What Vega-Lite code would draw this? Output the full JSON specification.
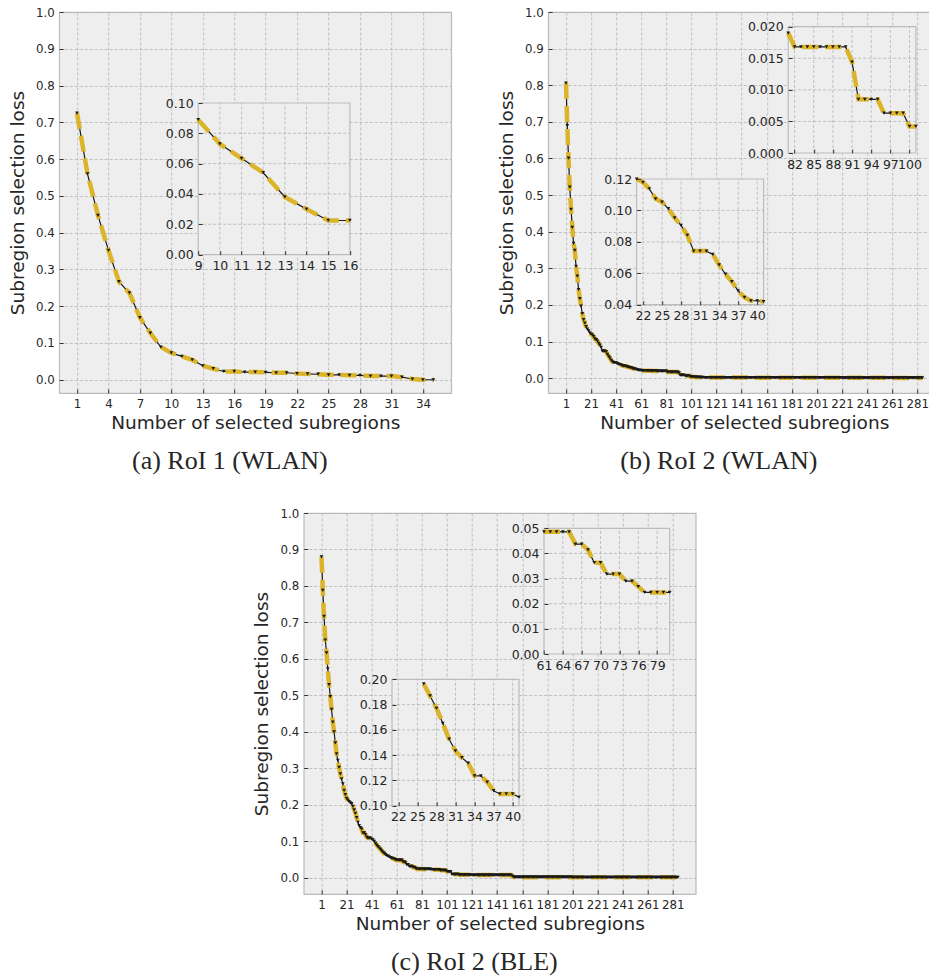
{
"$schema": "https://vega.github.io/schema/vega-lite/v6.json",
"padding": {"left": 7, "top": 6, "right": 0, "bottom": 0},
"background": "white",
"config": {
 "view": {"fill": "#eeeeee", "stroke": "#bcbcbc", "strokeWidth": 1.2},
 "axis": {"labelFont": "DejaVu Sans", "labelFontSize": 11.8, "labelColor": "#262626", "titleFont": "DejaVu Sans", "titleFontSize": 18.5, "titleFontWeight": "normal", "titleColor": "#262626", "domain": false, "grid": true, "gridColor": "#b2b2b2", "gridDash": [3, 2], "gridWidth": 0.8, "tickColor": "#333333", "tickSize": -4, "tickWidth": 1, "labelPadding": 9, "labelFlush": false, "labelOverlap": false},
 "rule": {"color": "#b2b2b2", "strokeDash": [3, 2], "strokeWidth": 0.8},
 "title": {"font": "Liberation Serif", "fontSize": 26, "fontWeight": "normal", "color": "#262626"}
},
"datasets": {
 "a": [{"n":1,"loss":0.725},{"n":2,"loss":0.560},{"n":3,"loss":0.447},{"n":4,"loss":0.352},{"n":5,"loss":0.267},{"n":6,"loss":0.236},{"n":7,"loss":0.169},{"n":8,"loss":0.127},{"n":9,"loss":0.089},{"n":10,"loss":0.073},{"n":11,"loss":0.0635},{"n":12,"loss":0.054},{"n":13,"loss":0.038},{"n":14,"loss":0.030},{"n":15,"loss":0.0225},{"n":16,"loss":0.0225},{"n":17,"loss":0.021},{"n":18,"loss":0.021},{"n":19,"loss":0.020},{"n":20,"loss":0.019},{"n":21,"loss":0.019},{"n":22,"loss":0.017},{"n":23,"loss":0.016},{"n":24,"loss":0.015},{"n":25,"loss":0.0135},{"n":26,"loss":0.0135},{"n":27,"loss":0.012},{"n":28,"loss":0.012},{"n":29,"loss":0.010},{"n":30,"loss":0.010},{"n":31,"loss":0.010},{"n":32,"loss":0.007},{"n":33,"loss":0.002},{"n":34,"loss":0.0},{"n":35,"loss":0.0}],
 "b": [{"n":1,"loss":0.806},{"n":2,"loss":0.690},{"n":3,"loss":0.601},{"n":4,"loss":0.522},{"n":5,"loss":0.461},{"n":6,"loss":0.412},{"n":7,"loss":0.368},{"n":8,"loss":0.349},{"n":9,"loss":0.305},{"n":10,"loss":0.279},{"n":11,"loss":0.242},{"n":12,"loss":0.217},{"n":13,"loss":0.197},{"n":14,"loss":0.176},{"n":15,"loss":0.160},{"n":16,"loss":0.150},{"n":17,"loss":0.141},{"n":18,"loss":0.134},{"n":19,"loss":0.129},{"n":20,"loss":0.124},{"n":21,"loss":0.120},{"n":22,"loss":0.1179},{"n":23,"loss":0.1137},{"n":24,"loss":0.1074},{"n":25,"loss":0.1053},{"n":26,"loss":0.1011},{"n":27,"loss":0.0952},{"n":28,"loss":0.0905},{"n":29,"loss":0.0842},{"n":30,"loss":0.0741},{"n":31,"loss":0.0741},{"n":32,"loss":0.0741},{"n":33,"loss":0.0720},{"n":34,"loss":0.0653},{"n":35,"loss":0.0594},{"n":36,"loss":0.0547},{"n":37,"loss":0.0488},{"n":38,"loss":0.0446},{"n":39,"loss":0.0425},{"n":40,"loss":0.0425},{"n":41,"loss":0.0420},{"n":42,"loss":0.0400},{"n":43,"loss":0.0385},{"n":44,"loss":0.0370},{"n":45,"loss":0.0355},{"n":46,"loss":0.0345},{"n":47,"loss":0.0335},{"n":48,"loss":0.0330},{"n":49,"loss":0.0320},{"n":50,"loss":0.0310},{"n":51,"loss":0.0300},{"n":52,"loss":0.0290},{"n":53,"loss":0.0280},{"n":54,"loss":0.0270},{"n":55,"loss":0.0260},{"n":56,"loss":0.0250},{"n":57,"loss":0.0240},{"n":58,"loss":0.0230},{"n":59,"loss":0.0222},{"n":60,"loss":0.0215},{"n":61,"loss":0.0210},{"n":62,"loss":0.0208},{"n":63,"loss":0.0206},{"n":64,"loss":0.0205},{"n":65,"loss":0.0204},{"n":66,"loss":0.0203},{"n":67,"loss":0.0202},{"n":68,"loss":0.0201},{"n":69,"loss":0.0200},{"n":70,"loss":0.0199},{"n":71,"loss":0.0198},{"n":72,"loss":0.0197},{"n":73,"loss":0.0196},{"n":74,"loss":0.0195},{"n":75,"loss":0.0194},{"n":76,"loss":0.0194},{"n":77,"loss":0.0193},{"n":78,"loss":0.0192},{"n":79,"loss":0.0191},{"n":80,"loss":0.0190},{"n":81,"loss":0.0190},{"n":82,"loss":0.0168},{"n":83,"loss":0.0168},{"n":84,"loss":0.0168},{"n":85,"loss":0.0168},{"n":86,"loss":0.0168},{"n":87,"loss":0.0168},{"n":88,"loss":0.0168},{"n":89,"loss":0.0168},{"n":90,"loss":0.0168},{"n":91,"loss":0.0144},{"n":92,"loss":0.0085},{"n":93,"loss":0.0085},{"n":94,"loss":0.0085},{"n":95,"loss":0.0085},{"n":96,"loss":0.0063},{"n":97,"loss":0.0063},{"n":98,"loss":0.0063},{"n":99,"loss":0.0063},{"n":100,"loss":0.0042},{"n":101,"loss":0.0042},{"n":102,"loss":0.0035},{"n":103,"loss":0.0032},{"n":104,"loss":0.0030},{"n":105,"loss":0.0028},{"n":106,"loss":0.0026},{"n":107,"loss":0.0024},{"n":108,"loss":0.0022},{"n":109,"loss":0.0021},{"n":110,"loss":0.0020},{"n":111,"loss":0.0018},{"n":112,"loss":0.0018},{"n":113,"loss":0.0018},{"n":114,"loss":0.0018},{"n":115,"loss":0.0018},{"n":116,"loss":0.0018},{"n":117,"loss":0.0018},{"n":118,"loss":0.0018},{"n":119,"loss":0.0018},{"n":120,"loss":0.0018},{"n":121,"loss":0.0018},{"n":122,"loss":0.0018},{"n":123,"loss":0.0018},{"n":124,"loss":0.0018},{"n":125,"loss":0.0018},{"n":126,"loss":0.0016},{"n":127,"loss":0.0016},{"n":128,"loss":0.0016},{"n":129,"loss":0.0016},{"n":130,"loss":0.0016},{"n":131,"loss":0.0016},{"n":132,"loss":0.0016},{"n":133,"loss":0.0016},{"n":134,"loss":0.0016},{"n":135,"loss":0.0016},{"n":136,"loss":0.0016},{"n":137,"loss":0.0016},{"n":138,"loss":0.0016},{"n":139,"loss":0.0016},{"n":140,"loss":0.0016},{"n":141,"loss":0.0016},{"n":142,"loss":0.0016},{"n":143,"loss":0.0016},{"n":144,"loss":0.0016},{"n":145,"loss":0.0016},{"n":146,"loss":0.0016},{"n":147,"loss":0.0016},{"n":148,"loss":0.0016},{"n":149,"loss":0.0016},{"n":150,"loss":0.0016},{"n":151,"loss":0.0014},{"n":152,"loss":0.0014},{"n":153,"loss":0.0014},{"n":154,"loss":0.0014},{"n":155,"loss":0.0014},{"n":156,"loss":0.0014},{"n":157,"loss":0.0014},{"n":158,"loss":0.0014},{"n":159,"loss":0.0014},{"n":160,"loss":0.0014},{"n":161,"loss":0.0014},{"n":162,"loss":0.0014},{"n":163,"loss":0.0014},{"n":164,"loss":0.0014},{"n":165,"loss":0.0014},{"n":166,"loss":0.0014},{"n":167,"loss":0.0014},{"n":168,"loss":0.0014},{"n":169,"loss":0.0014},{"n":170,"loss":0.0014},{"n":171,"loss":0.0014},{"n":172,"loss":0.0014},{"n":173,"loss":0.0014},{"n":174,"loss":0.0014},{"n":175,"loss":0.0014},{"n":176,"loss":0.0014},{"n":177,"loss":0.0014},{"n":178,"loss":0.0014},{"n":179,"loss":0.0014},{"n":180,"loss":0.0014},{"n":181,"loss":0.0012},{"n":182,"loss":0.0012},{"n":183,"loss":0.0012},{"n":184,"loss":0.0012},{"n":185,"loss":0.0012},{"n":186,"loss":0.0012},{"n":187,"loss":0.0012},{"n":188,"loss":0.0012},{"n":189,"loss":0.0012},{"n":190,"loss":0.0012},{"n":191,"loss":0.0012},{"n":192,"loss":0.0012},{"n":193,"loss":0.0012},{"n":194,"loss":0.0012},{"n":195,"loss":0.0012},{"n":196,"loss":0.0012},{"n":197,"loss":0.0012},{"n":198,"loss":0.0012},{"n":199,"loss":0.0012},{"n":200,"loss":0.0012},{"n":201,"loss":0.0012},{"n":202,"loss":0.0012},{"n":203,"loss":0.0012},{"n":204,"loss":0.0012},{"n":205,"loss":0.0012},{"n":206,"loss":0.0012},{"n":207,"loss":0.0012},{"n":208,"loss":0.0012},{"n":209,"loss":0.0012},{"n":210,"loss":0.0012},{"n":211,"loss":0.0012},{"n":212,"loss":0.0012},{"n":213,"loss":0.0012},{"n":214,"loss":0.0012},{"n":215,"loss":0.0012},{"n":216,"loss":0.0012},{"n":217,"loss":0.0012},{"n":218,"loss":0.0012},{"n":219,"loss":0.0012},{"n":220,"loss":0.0012},{"n":221,"loss":0.0010},{"n":222,"loss":0.0010},{"n":223,"loss":0.0010},{"n":224,"loss":0.0010},{"n":225,"loss":0.0010},{"n":226,"loss":0.0010},{"n":227,"loss":0.0010},{"n":228,"loss":0.0010},{"n":229,"loss":0.0010},{"n":230,"loss":0.0010},{"n":231,"loss":0.0010},{"n":232,"loss":0.0010},{"n":233,"loss":0.0010},{"n":234,"loss":0.0010},{"n":235,"loss":0.0010},{"n":236,"loss":0.0010},{"n":237,"loss":0.0010},{"n":238,"loss":0.0010},{"n":239,"loss":0.0010},{"n":240,"loss":0.0010},{"n":241,"loss":0.0010},{"n":242,"loss":0.0010},{"n":243,"loss":0.0010},{"n":244,"loss":0.0010},{"n":245,"loss":0.0010},{"n":246,"loss":0.0010},{"n":247,"loss":0.0010},{"n":248,"loss":0.0010},{"n":249,"loss":0.0010},{"n":250,"loss":0.0010},{"n":251,"loss":0.0010},{"n":252,"loss":0.0010},{"n":253,"loss":0.0010},{"n":254,"loss":0.0010},{"n":255,"loss":0.0010},{"n":256,"loss":0.0010},{"n":257,"loss":0.0010},{"n":258,"loss":0.0010},{"n":259,"loss":0.0010},{"n":260,"loss":0.0010},{"n":261,"loss":0.0008},{"n":262,"loss":0.0008},{"n":263,"loss":0.0008},{"n":264,"loss":0.0008},{"n":265,"loss":0.0008},{"n":266,"loss":0.0008},{"n":267,"loss":0.0008},{"n":268,"loss":0.0008},{"n":269,"loss":0.0008},{"n":270,"loss":0.0008},{"n":271,"loss":0.0008},{"n":272,"loss":0.0008},{"n":273,"loss":0.0008},{"n":274,"loss":0.0008},{"n":275,"loss":0.0008},{"n":276,"loss":0.0008},{"n":277,"loss":0.0008},{"n":278,"loss":0.0008},{"n":279,"loss":0.0008},{"n":280,"loss":0.0008},{"n":281,"loss":0.0008},{"n":282,"loss":0.0008},{"n":283,"loss":0.0008},{"n":284,"loss":0.0008},{"n":285,"loss":0.0008}],
 "c": [{"n":1,"loss":0.880},{"n":2,"loss":0.788},{"n":3,"loss":0.717},{"n":4,"loss":0.652},{"n":5,"loss":0.617},{"n":6,"loss":0.573},{"n":7,"loss":0.530},{"n":8,"loss":0.497},{"n":9,"loss":0.462},{"n":10,"loss":0.427},{"n":11,"loss":0.400},{"n":12,"loss":0.370},{"n":13,"loss":0.340},{"n":14,"loss":0.322},{"n":15,"loss":0.303},{"n":16,"loss":0.285},{"n":17,"loss":0.271},{"n":18,"loss":0.258},{"n":19,"loss":0.240},{"n":20,"loss":0.228},{"n":21,"loss":0.218},{"n":22,"loss":0.213},{"n":23,"loss":0.209},{"n":24,"loss":0.206},{"n":25,"loss":0.2035},{"n":26,"loss":0.1963},{"n":27,"loss":0.1868},{"n":28,"loss":0.1771},{"n":29,"loss":0.1652},{"n":30,"loss":0.1526},{"n":31,"loss":0.1433},{"n":32,"loss":0.1380},{"n":33,"loss":0.1336},{"n":34,"loss":0.1236},{"n":35,"loss":0.1236},{"n":36,"loss":0.1186},{"n":37,"loss":0.1119},{"n":38,"loss":0.1093},{"n":39,"loss":0.1093},{"n":40,"loss":0.1093},{"n":41,"loss":0.1067},{"n":42,"loss":0.1040},{"n":43,"loss":0.1000},{"n":44,"loss":0.0950},{"n":45,"loss":0.0900},{"n":46,"loss":0.0860},{"n":47,"loss":0.0820},{"n":48,"loss":0.0780},{"n":49,"loss":0.0740},{"n":50,"loss":0.0700},{"n":51,"loss":0.0670},{"n":52,"loss":0.0640},{"n":53,"loss":0.0615},{"n":54,"loss":0.0595},{"n":55,"loss":0.0575},{"n":56,"loss":0.0560},{"n":57,"loss":0.0545},{"n":58,"loss":0.0530},{"n":59,"loss":0.0515},{"n":60,"loss":0.0500},{"n":61,"loss":0.0486},{"n":62,"loss":0.0486},{"n":63,"loss":0.0486},{"n":64,"loss":0.0486},{"n":65,"loss":0.0486},{"n":66,"loss":0.0437},{"n":67,"loss":0.0437},{"n":68,"loss":0.0414},{"n":69,"loss":0.0363},{"n":70,"loss":0.0363},{"n":71,"loss":0.0318},{"n":72,"loss":0.0318},{"n":73,"loss":0.0318},{"n":74,"loss":0.0290},{"n":75,"loss":0.0290},{"n":76,"loss":0.0268},{"n":77,"loss":0.0245},{"n":78,"loss":0.0245},{"n":79,"loss":0.0245},{"n":80,"loss":0.0245},{"n":81,"loss":0.0245},{"n":82,"loss":0.0240},{"n":83,"loss":0.0240},{"n":84,"loss":0.0240},{"n":85,"loss":0.0240},{"n":86,"loss":0.0240},{"n":87,"loss":0.0240},{"n":88,"loss":0.0240},{"n":89,"loss":0.0225},{"n":90,"loss":0.0225},{"n":91,"loss":0.0225},{"n":92,"loss":0.0225},{"n":93,"loss":0.0225},{"n":94,"loss":0.0225},{"n":95,"loss":0.0225},{"n":96,"loss":0.0210},{"n":97,"loss":0.0210},{"n":98,"loss":0.0210},{"n":99,"loss":0.0210},{"n":100,"loss":0.0210},{"n":101,"loss":0.0175},{"n":102,"loss":0.0175},{"n":103,"loss":0.0175},{"n":104,"loss":0.0175},{"n":105,"loss":0.0100},{"n":106,"loss":0.0100},{"n":107,"loss":0.0100},{"n":108,"loss":0.0100},{"n":109,"loss":0.0100},{"n":110,"loss":0.0100},{"n":111,"loss":0.0085},{"n":112,"loss":0.0085},{"n":113,"loss":0.0085},{"n":114,"loss":0.0085},{"n":115,"loss":0.0085},{"n":116,"loss":0.0085},{"n":117,"loss":0.0085},{"n":118,"loss":0.0085},{"n":119,"loss":0.0085},{"n":120,"loss":0.0085},{"n":121,"loss":0.0080},{"n":122,"loss":0.0080},{"n":123,"loss":0.0080},{"n":124,"loss":0.0080},{"n":125,"loss":0.0080},{"n":126,"loss":0.0080},{"n":127,"loss":0.0080},{"n":128,"loss":0.0080},{"n":129,"loss":0.0080},{"n":130,"loss":0.0080},{"n":131,"loss":0.0080},{"n":132,"loss":0.0080},{"n":133,"loss":0.0080},{"n":134,"loss":0.0080},{"n":135,"loss":0.0080},{"n":136,"loss":0.0080},{"n":137,"loss":0.0080},{"n":138,"loss":0.0080},{"n":139,"loss":0.0080},{"n":140,"loss":0.0080},{"n":141,"loss":0.0080},{"n":142,"loss":0.0080},{"n":143,"loss":0.0080},{"n":144,"loss":0.0080},{"n":145,"loss":0.0080},{"n":146,"loss":0.0080},{"n":147,"loss":0.0080},{"n":148,"loss":0.0080},{"n":149,"loss":0.0080},{"n":150,"loss":0.0080},{"n":151,"loss":0.0080},{"n":152,"loss":0.0080},{"n":153,"loss":0.0050},{"n":154,"loss":0.0030},{"n":155,"loss":0.0022},{"n":156,"loss":0.0022},{"n":157,"loss":0.0022},{"n":158,"loss":0.0022},{"n":159,"loss":0.0022},{"n":160,"loss":0.0022},{"n":161,"loss":0.0022},{"n":162,"loss":0.0022},{"n":163,"loss":0.0022},{"n":164,"loss":0.0022},{"n":165,"loss":0.0022},{"n":166,"loss":0.0022},{"n":167,"loss":0.0022},{"n":168,"loss":0.0022},{"n":169,"loss":0.0022},{"n":170,"loss":0.0022},{"n":171,"loss":0.0022},{"n":172,"loss":0.0022},{"n":173,"loss":0.0022},{"n":174,"loss":0.0022},{"n":175,"loss":0.0022},{"n":176,"loss":0.0022},{"n":177,"loss":0.0022},{"n":178,"loss":0.0022},{"n":179,"loss":0.0022},{"n":180,"loss":0.0022},{"n":181,"loss":0.0022},{"n":182,"loss":0.0022},{"n":183,"loss":0.0022},{"n":184,"loss":0.0022},{"n":185,"loss":0.0022},{"n":186,"loss":0.0022},{"n":187,"loss":0.0022},{"n":188,"loss":0.0022},{"n":189,"loss":0.0022},{"n":190,"loss":0.0022},{"n":191,"loss":0.0022},{"n":192,"loss":0.0022},{"n":193,"loss":0.0022},{"n":194,"loss":0.0022},{"n":195,"loss":0.0022},{"n":196,"loss":0.0022},{"n":197,"loss":0.0022},{"n":198,"loss":0.0022},{"n":199,"loss":0.0022},{"n":200,"loss":0.0022},{"n":201,"loss":0.0018},{"n":202,"loss":0.0018},{"n":203,"loss":0.0018},{"n":204,"loss":0.0018},{"n":205,"loss":0.0018},{"n":206,"loss":0.0018},{"n":207,"loss":0.0018},{"n":208,"loss":0.0018},{"n":209,"loss":0.0018},{"n":210,"loss":0.0018},{"n":211,"loss":0.0018},{"n":212,"loss":0.0018},{"n":213,"loss":0.0018},{"n":214,"loss":0.0018},{"n":215,"loss":0.0018},{"n":216,"loss":0.0018},{"n":217,"loss":0.0018},{"n":218,"loss":0.0018},{"n":219,"loss":0.0018},{"n":220,"loss":0.0018},{"n":221,"loss":0.0018},{"n":222,"loss":0.0018},{"n":223,"loss":0.0018},{"n":224,"loss":0.0018},{"n":225,"loss":0.0018},{"n":226,"loss":0.0018},{"n":227,"loss":0.0018},{"n":228,"loss":0.0018},{"n":229,"loss":0.0018},{"n":230,"loss":0.0018},{"n":231,"loss":0.0018},{"n":232,"loss":0.0018},{"n":233,"loss":0.0018},{"n":234,"loss":0.0018},{"n":235,"loss":0.0018},{"n":236,"loss":0.0018},{"n":237,"loss":0.0018},{"n":238,"loss":0.0018},{"n":239,"loss":0.0018},{"n":240,"loss":0.0018},{"n":241,"loss":0.0018},{"n":242,"loss":0.0018},{"n":243,"loss":0.0018},{"n":244,"loss":0.0018},{"n":245,"loss":0.0018},{"n":246,"loss":0.0018},{"n":247,"loss":0.0018},{"n":248,"loss":0.0018},{"n":249,"loss":0.0018},{"n":250,"loss":0.0018},{"n":251,"loss":0.0018},{"n":252,"loss":0.0018},{"n":253,"loss":0.0018},{"n":254,"loss":0.0018},{"n":255,"loss":0.0018},{"n":256,"loss":0.0018},{"n":257,"loss":0.0018},{"n":258,"loss":0.0018},{"n":259,"loss":0.0018},{"n":260,"loss":0.0018},{"n":261,"loss":0.0018},{"n":262,"loss":0.0018},{"n":263,"loss":0.0018},{"n":264,"loss":0.0018},{"n":265,"loss":0.0018},{"n":266,"loss":0.0018},{"n":267,"loss":0.0018},{"n":268,"loss":0.0018},{"n":269,"loss":0.0018},{"n":270,"loss":0.0018},{"n":271,"loss":0.0018},{"n":272,"loss":0.0018},{"n":273,"loss":0.0018},{"n":274,"loss":0.0018},{"n":275,"loss":0.0018},{"n":276,"loss":0.0018},{"n":277,"loss":0.0018},{"n":278,"loss":0.0018},{"n":279,"loss":0.0018},{"n":280,"loss":0.0018},{"n":281,"loss":0.0018},{"n":282,"loss":0.0018},{"n":283,"loss":0.0018},{"n":284,"loss":0.0018},{"n":285,"loss":0.0018}]
},
"vconcat": [
 {"hconcat": [
  {
   "width": 392, "height": 381,
   "title": {"text": "(a) RoI 1 (WLAN)", "orient": "bottom", "anchor": "middle", "frame": "bounds", "offset": 16},
   "layer": [
    {"data": {"name": "a"},
     "encoding": {
      "x": {"field": "n", "type": "quantitative", "scale": {"domain": [-0.7, 36.7], "nice": false, "zero": false}, "axis": {"orient": "bottom", "values": [1,4,7,10,13,16,19,22,25,28,31,34], "title": "Number of selected subregions", "titlePadding": 4}},
      "y": {"field": "loss", "type": "quantitative", "scale": {"domain": [-0.036, 1.0], "nice": false, "zero": false}, "axis": {"orient": "left", "values": [0,0.1,0.2,0.3,0.4,0.5,0.6,0.7,0.8,0.9,1.0], "format": ".1f", "title": "Subregion selection loss", "titlePadding": 8}}},
     "layer": [
      {"mark": {"type": "line", "color": "#1a1a1a", "strokeWidth": 1.2}},
      {"mark": {"type": "line", "color": "#dcb42a", "strokeWidth": 4.5, "strokeDash": [16, 7], "strokeCap": "butt"}},
      {"mark": {"type": "point", "shape": "triangle-down", "filled": true, "color": "#1a1a1a", "size": 14, "opacity": 1}}
     ]},
    {"encoding": {
      "x": {"field": "n", "type": "quantitative", "scale": {"domain": [9, 16], "range": [139, 290.7], "nice": false, "zero": false}, "axis": {"orient": "bottom", "offset": -138.4, "values": [9,10,11,12,13,14,15,16], "title": null, "grid": false, "zindex": 1, "labelFontSize": 12.5}},
      "y": {"field": "loss", "type": "quantitative", "scale": {"domain": [0, 0.1], "range": [242.6, 91], "nice": false, "zero": false}, "axis": {"orient": "left", "offset": -139, "values": [0,0.02,0.04,0.06,0.08,0.1], "format": ".2f", "title": null, "grid": false, "zindex": 1, "labelFontSize": 12.5}}},
     "layer": [
      {"data": {"values": [{"x0": 9, "x1": 16, "y0": 0, "y1": 0.1}]}, "mark": {"type": "rect", "fill": "#eeeeee", "stroke": "#bcbcbc", "strokeWidth": 1.2}, "encoding": {"x": {"field": "x0", "type": "quantitative"}, "x2": {"field": "x1"}, "y": {"field": "y0", "type": "quantitative"}, "y2": {"field": "y1"}}},
      {"data": {"values": [{"t":10,"lo":0,"hi":0.1},{"t":11,"lo":0,"hi":0.1},{"t":12,"lo":0,"hi":0.1},{"t":13,"lo":0,"hi":0.1},{"t":14,"lo":0,"hi":0.1},{"t":15,"lo":0,"hi":0.1}]}, "mark": {"type": "rule"}, "encoding": {"x": {"field": "t", "type": "quantitative"}, "y": {"field": "lo", "type": "quantitative"}, "y2": {"field": "hi"}}},
      {"data": {"values": [{"t":0.02,"lo":9,"hi":16},{"t":0.04,"lo":9,"hi":16},{"t":0.06,"lo":9,"hi":16},{"t":0.08,"lo":9,"hi":16}]}, "mark": {"type": "rule"}, "encoding": {"y": {"field": "t", "type": "quantitative"}, "x": {"field": "lo", "type": "quantitative"}, "x2": {"field": "hi"}}},
      {"data": {"name": "a"}, "transform": [{"filter": "datum.n >= 9 && datum.n <= 16"}], "mark": {"type": "line", "color": "#1a1a1a", "strokeWidth": 1.2}},
      {"data": {"name": "a"}, "transform": [{"filter": "datum.n >= 9 && datum.n <= 16"}], "mark": {"type": "line", "color": "#dcb42a", "strokeWidth": 4.5, "strokeDash": [16, 7], "strokeCap": "butt"}},
      {"data": {"name": "a"}, "transform": [{"filter": "datum.n >= 9 && datum.n <= 16"}], "mark": {"type": "point", "shape": "triangle-down", "filled": true, "color": "#1a1a1a", "size": 14, "opacity": 1}}
     ]}
   ],
   "resolve": {"scale": {"x": "independent", "y": "independent"}}
  },
  {
   "width": 392, "height": 381,
   "title": {"text": "(b) RoI 2 (WLAN)", "orient": "bottom", "anchor": "middle", "frame": "bounds", "offset": 16},
   "layer": [
    {"data": {"name": "b"},
     "encoding": {
      "x": {"field": "n", "type": "quantitative", "scale": {"domain": [-13.2, 299.2], "nice": false, "zero": false}, "axis": {"orient": "bottom", "values": [1,21,41,61,81,101,121,141,161,181,201,221,241,261,281], "title": "Number of selected subregions", "titlePadding": 4}},
      "y": {"field": "loss", "type": "quantitative", "scale": {"domain": [-0.0405, 1.0], "nice": false, "zero": false}, "axis": {"orient": "left", "values": [0,0.1,0.2,0.3,0.4,0.5,0.6,0.7,0.8,0.9,1.0], "format": ".1f", "title": "Subregion selection loss", "titlePadding": 8}}},
     "layer": [
      {"mark": {"type": "line", "color": "#1a1a1a", "strokeWidth": 1.2}},
      {"mark": {"type": "line", "color": "#dcb42a", "strokeWidth": 4.5, "strokeDash": [16, 7], "strokeCap": "butt"}},
      {"mark": {"type": "point", "shape": "triangle-down", "filled": true, "color": "#1a1a1a", "size": 14, "opacity": 1}}
     ]},
    {"encoding": {
      "x": {"field": "n", "type": "quantitative", "scale": {"domain": [81, 101], "range": [240, 367.7], "nice": false, "zero": false}, "axis": {"orient": "bottom", "offset": -240, "values": [82,85,88,91,94,97,100], "title": null, "grid": false, "zindex": 1, "labelFontSize": 12.5}},
      "y": {"field": "loss", "type": "quantitative", "scale": {"domain": [0, 0.02], "range": [141, 14.7], "nice": false, "zero": false}, "axis": {"orient": "left", "offset": -240, "values": [0,0.005,0.01,0.015,0.02], "format": ".3f", "title": null, "grid": false, "zindex": 1, "labelFontSize": 12.5}}},
     "layer": [
      {"data": {"values": [{"x0": 81, "x1": 101, "y0": 0, "y1": 0.02}]}, "mark": {"type": "rect", "fill": "#eeeeee", "stroke": "#bcbcbc", "strokeWidth": 1.2}, "encoding": {"x": {"field": "x0", "type": "quantitative"}, "x2": {"field": "x1"}, "y": {"field": "y0", "type": "quantitative"}, "y2": {"field": "y1"}}},
      {"data": {"values": [{"t":82,"lo":0,"hi":0.02},{"t":85,"lo":0,"hi":0.02},{"t":88,"lo":0,"hi":0.02},{"t":91,"lo":0,"hi":0.02},{"t":94,"lo":0,"hi":0.02},{"t":97,"lo":0,"hi":0.02},{"t":100,"lo":0,"hi":0.02}]}, "mark": {"type": "rule"}, "encoding": {"x": {"field": "t", "type": "quantitative"}, "y": {"field": "lo", "type": "quantitative"}, "y2": {"field": "hi"}}},
      {"data": {"values": [{"t":0.005,"lo":81,"hi":101},{"t":0.01,"lo":81,"hi":101},{"t":0.015,"lo":81,"hi":101}]}, "mark": {"type": "rule"}, "encoding": {"y": {"field": "t", "type": "quantitative"}, "x": {"field": "lo", "type": "quantitative"}, "x2": {"field": "hi"}}},
      {"data": {"name": "b"}, "transform": [{"filter": "datum.n >= 81 && datum.n <= 101"}], "mark": {"type": "line", "color": "#1a1a1a", "strokeWidth": 1.2}},
      {"data": {"name": "b"}, "transform": [{"filter": "datum.n >= 81 && datum.n <= 101"}], "mark": {"type": "line", "color": "#dcb42a", "strokeWidth": 4.5, "strokeDash": [16, 7], "strokeCap": "butt"}},
      {"data": {"name": "b"}, "transform": [{"filter": "datum.n >= 81 && datum.n <= 101"}], "mark": {"type": "point", "shape": "triangle-down", "filled": true, "color": "#1a1a1a", "size": 14, "opacity": 1}}
     ]},
    {"encoding": {
      "x": {"field": "n", "type": "quantitative", "scale": {"domain": [21, 41], "range": [88.4, 215.4], "nice": false, "zero": false}, "axis": {"orient": "bottom", "offset": -88.3, "values": [22,25,28,31,34,37,40], "title": null, "grid": false, "zindex": 1, "labelFontSize": 12.5}},
      "y": {"field": "loss", "type": "quantitative", "scale": {"domain": [0.04, 0.12], "range": [292.7, 167], "nice": false, "zero": false}, "axis": {"orient": "left", "offset": -88.4, "values": [0.04,0.06,0.08,0.1,0.12], "format": ".2f", "title": null, "grid": false, "zindex": 1, "labelFontSize": 12.5}}},
     "layer": [
      {"data": {"values": [{"x0": 21, "x1": 41, "y0": 0.04, "y1": 0.12}]}, "mark": {"type": "rect", "fill": "#eeeeee", "stroke": "#bcbcbc", "strokeWidth": 1.2}, "encoding": {"x": {"field": "x0", "type": "quantitative"}, "x2": {"field": "x1"}, "y": {"field": "y0", "type": "quantitative"}, "y2": {"field": "y1"}}},
      {"data": {"values": [{"t":22,"lo":0.04,"hi":0.12},{"t":25,"lo":0.04,"hi":0.12},{"t":28,"lo":0.04,"hi":0.12},{"t":31,"lo":0.04,"hi":0.12},{"t":34,"lo":0.04,"hi":0.12},{"t":37,"lo":0.04,"hi":0.12},{"t":40,"lo":0.04,"hi":0.12}]}, "mark": {"type": "rule"}, "encoding": {"x": {"field": "t", "type": "quantitative"}, "y": {"field": "lo", "type": "quantitative"}, "y2": {"field": "hi"}}},
      {"data": {"values": [{"t":0.06,"lo":21,"hi":41},{"t":0.08,"lo":21,"hi":41},{"t":0.1,"lo":21,"hi":41}]}, "mark": {"type": "rule"}, "encoding": {"y": {"field": "t", "type": "quantitative"}, "x": {"field": "lo", "type": "quantitative"}, "x2": {"field": "hi"}}},
      {"data": {"name": "b"}, "transform": [{"filter": "datum.n >= 21 && datum.n <= 41"}], "mark": {"type": "line", "color": "#1a1a1a", "strokeWidth": 1.2}},
      {"data": {"name": "b"}, "transform": [{"filter": "datum.n >= 21 && datum.n <= 41"}], "mark": {"type": "line", "color": "#dcb42a", "strokeWidth": 4.5, "strokeDash": [16, 7], "strokeCap": "butt"}},
      {"data": {"name": "b"}, "transform": [{"filter": "datum.n >= 21 && datum.n <= 41"}], "mark": {"type": "point", "shape": "triangle-down", "filled": true, "color": "#1a1a1a", "size": 14, "opacity": 1}}
     ]}
   ],
   "resolve": {"scale": {"x": "independent", "y": "independent"}}
  }
 ], "spacing": 44},
 {
  "width": 392, "height": 381,
  "title": {"text": "(c) RoI 2 (BLE)", "orient": "bottom", "anchor": "middle", "frame": "bounds", "offset": 16},
  "layer": [
   {"data": {"name": "c"},
    "encoding": {
     "x": {"field": "n", "type": "quantitative", "scale": {"domain": [-13.2, 299.2], "nice": false, "zero": false}, "axis": {"orient": "bottom", "values": [1,21,41,61,81,101,121,141,161,181,201,221,241,261,281], "title": "Number of selected subregions", "titlePadding": 4}},
     "y": {"field": "loss", "type": "quantitative", "scale": {"domain": [-0.044, 1.0], "nice": false, "zero": false}, "axis": {"orient": "left", "values": [0,0.1,0.2,0.3,0.4,0.5,0.6,0.7,0.8,0.9,1.0], "format": ".1f", "title": "Subregion selection loss", "titlePadding": 8}}},
    "layer": [
     {"mark": {"type": "line", "color": "#1a1a1a", "strokeWidth": 1.2}},
     {"mark": {"type": "line", "color": "#dcb42a", "strokeWidth": 4.5, "strokeDash": [16, 7], "strokeCap": "butt"}},
     {"mark": {"type": "point", "shape": "triangle-down", "filled": true, "color": "#1a1a1a", "size": 14, "opacity": 1}}
    ]},
   {"encoding": {
     "x": {"field": "n", "type": "quantitative", "scale": {"domain": [61, 81], "range": [240.3, 366], "nice": false, "zero": false}, "axis": {"orient": "bottom", "offset": -240, "values": [61,64,67,70,73,76,79], "title": null, "grid": false, "zindex": 1, "labelFontSize": 12.5}},
     "y": {"field": "loss", "type": "quantitative", "scale": {"domain": [0, 0.05], "range": [141, 15.3], "nice": false, "zero": false}, "axis": {"orient": "left", "offset": -240.3, "values": [0,0.01,0.02,0.03,0.04,0.05], "format": ".2f", "title": null, "grid": false, "zindex": 1, "labelFontSize": 12.5}}},
    "layer": [
     {"data": {"values": [{"x0": 61, "x1": 81, "y0": 0, "y1": 0.05}]}, "mark": {"type": "rect", "fill": "#eeeeee", "stroke": "#bcbcbc", "strokeWidth": 1.2}, "encoding": {"x": {"field": "x0", "type": "quantitative"}, "x2": {"field": "x1"}, "y": {"field": "y0", "type": "quantitative"}, "y2": {"field": "y1"}}},
     {"data": {"values": [{"t":64,"lo":0,"hi":0.05},{"t":67,"lo":0,"hi":0.05},{"t":70,"lo":0,"hi":0.05},{"t":73,"lo":0,"hi":0.05},{"t":76,"lo":0,"hi":0.05},{"t":79,"lo":0,"hi":0.05}]}, "mark": {"type": "rule"}, "encoding": {"x": {"field": "t", "type": "quantitative"}, "y": {"field": "lo", "type": "quantitative"}, "y2": {"field": "hi"}}},
     {"data": {"values": [{"t":0.01,"lo":61,"hi":81},{"t":0.02,"lo":61,"hi":81},{"t":0.03,"lo":61,"hi":81},{"t":0.04,"lo":61,"hi":81}]}, "mark": {"type": "rule"}, "encoding": {"y": {"field": "t", "type": "quantitative"}, "x": {"field": "lo", "type": "quantitative"}, "x2": {"field": "hi"}}},
     {"data": {"name": "c"}, "transform": [{"filter": "datum.n >= 61 && datum.n <= 81"}], "mark": {"type": "line", "color": "#1a1a1a", "strokeWidth": 1.2}},
     {"data": {"name": "c"}, "transform": [{"filter": "datum.n >= 61 && datum.n <= 81"}], "mark": {"type": "line", "color": "#dcb42a", "strokeWidth": 4.5, "strokeDash": [16, 7], "strokeCap": "butt"}},
     {"data": {"name": "c"}, "transform": [{"filter": "datum.n >= 61 && datum.n <= 81"}], "mark": {"type": "point", "shape": "triangle-down", "filled": true, "color": "#1a1a1a", "size": 14, "opacity": 1}}
    ]},
   {"encoding": {
     "x": {"field": "n", "type": "quantitative", "scale": {"domain": [21, 41], "range": [88.3, 215.3], "nice": false, "zero": false}, "axis": {"orient": "bottom", "offset": -88.3, "values": [22,25,28,31,34,37,40], "title": null, "grid": false, "zindex": 1, "labelFontSize": 12.5}},
     "y": {"field": "loss", "type": "quantitative", "scale": {"domain": [0.1, 0.2], "range": [292.7, 166.3], "nice": false, "zero": false}, "axis": {"orient": "left", "offset": -88.3, "values": [0.1,0.12,0.14,0.16,0.18,0.2], "format": ".2f", "title": null, "grid": false, "zindex": 1, "labelFontSize": 12.5}}},
    "layer": [
     {"data": {"values": [{"x0": 21, "x1": 41, "y0": 0.1, "y1": 0.2}]}, "mark": {"type": "rect", "fill": "#eeeeee", "stroke": "#bcbcbc", "strokeWidth": 1.2}, "encoding": {"x": {"field": "x0", "type": "quantitative"}, "x2": {"field": "x1"}, "y": {"field": "y0", "type": "quantitative"}, "y2": {"field": "y1"}}},
     {"data": {"values": [{"t":22,"lo":0.1,"hi":0.2},{"t":25,"lo":0.1,"hi":0.2},{"t":28,"lo":0.1,"hi":0.2},{"t":31,"lo":0.1,"hi":0.2},{"t":34,"lo":0.1,"hi":0.2},{"t":37,"lo":0.1,"hi":0.2},{"t":40,"lo":0.1,"hi":0.2}]}, "mark": {"type": "rule"}, "encoding": {"x": {"field": "t", "type": "quantitative"}, "y": {"field": "lo", "type": "quantitative"}, "y2": {"field": "hi"}}},
     {"data": {"values": [{"t":0.12,"lo":21,"hi":41},{"t":0.14,"lo":21,"hi":41},{"t":0.16,"lo":21,"hi":41},{"t":0.18,"lo":21,"hi":41}]}, "mark": {"type": "rule"}, "encoding": {"y": {"field": "t", "type": "quantitative"}, "x": {"field": "lo", "type": "quantitative"}, "x2": {"field": "hi"}}},
     {"data": {"name": "c"}, "transform": [{"filter": "datum.n >= 26 && datum.n <= 41"}], "mark": {"type": "line", "color": "#1a1a1a", "strokeWidth": 1.2}},
     {"data": {"name": "c"}, "transform": [{"filter": "datum.n >= 26 && datum.n <= 41"}], "mark": {"type": "line", "color": "#dcb42a", "strokeWidth": 4.5, "strokeDash": [16, 7], "strokeCap": "butt"}},
     {"data": {"name": "c"}, "transform": [{"filter": "datum.n >= 26 && datum.n <= 41"}], "mark": {"type": "point", "shape": "triangle-down", "filled": true, "color": "#1a1a1a", "size": 14, "opacity": 1}}
    ]}
  ],
  "resolve": {"scale": {"x": "independent", "y": "independent"}}
 }
],
"spacing": 32,
"center": true
}
